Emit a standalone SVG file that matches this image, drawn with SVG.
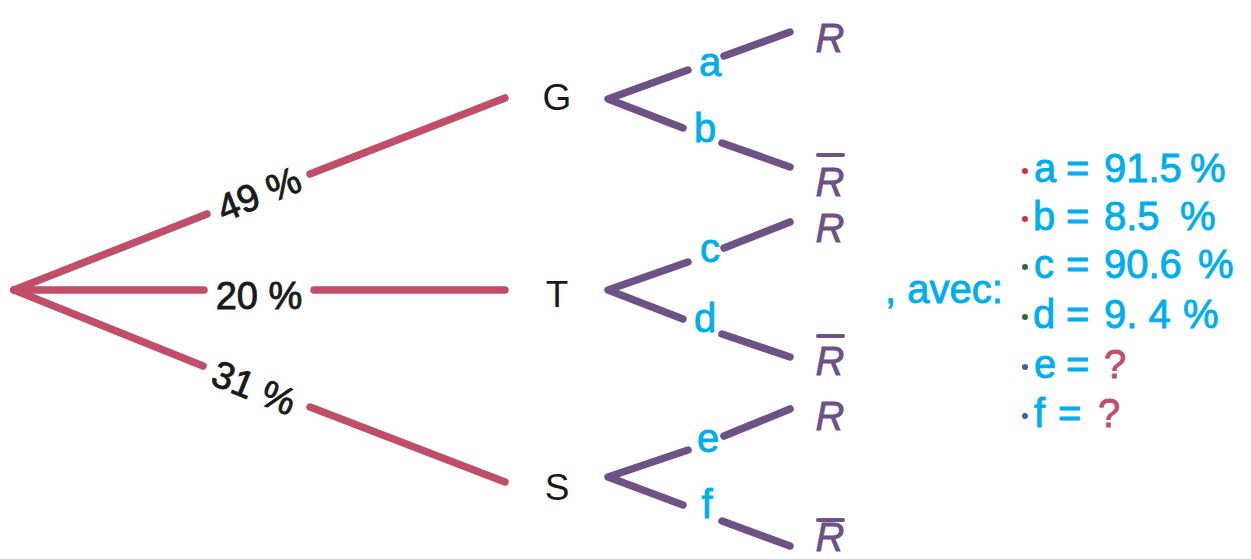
<svg xmlns="http://www.w3.org/2000/svg" width="1251" height="559" viewBox="0 0 1251 559">
<style>
.pk{stroke:#C04E6A;stroke-width:7.5;stroke-linecap:round;fill:none}
.pu{stroke:#6E5185;stroke-width:7.5;stroke-linecap:round;stroke-linejoin:round;fill:none}
.bk{font-family:"Liberation Sans",Arial,sans-serif;font-size:38px;fill:#1a1a1a;stroke:#1a1a1a;stroke-width:0.9}
.nd{font-family:"Liberation Sans",Arial,sans-serif;font-size:37px;fill:#1a1a1a;text-anchor:middle}
.r{font-family:"Liberation Sans",Arial,sans-serif;font-size:40px;font-style:italic;fill:#6E5185;stroke:#6E5185;stroke-width:0.8;text-anchor:middle}
.bar{stroke:#6E5185;stroke-width:4;stroke-linecap:round}
.bl{font-family:"Liberation Sans",Arial,sans-serif;font-size:40px;fill:#00AEEF;stroke:#00AEEF;stroke-width:0.9;text-anchor:middle}
.ls{font-family:"Liberation Sans",Arial,sans-serif;font-size:40px;fill:#00AEEF;stroke:#00AEEF;stroke-width:0.9}
.q{fill:#C04E6A;stroke:#C04E6A}
</style>
<rect width="1251" height="559" fill="#ffffff"/>
<g id="connectors">
<path class="pk" d="M14 290 L207 214 M310 174 L505 98"/>
<path class="pk" d="M14 290 L204 290 M314 290 L505 290"/>
<path class="pk" d="M14 290 L203 366 M310 407 L505 482"/>
<path class="pu" d="M688 70 L608 99 L683 128 M724 56 L790 32 M722 143 L790 167"/>
<path class="pu" d="M688 262 L608 290 L683 319 M724 248 L790 222 M722 334 L790 357"/>
<path class="pu" d="M688 450 L608 477 L683 505 M724 436 L790 409 M722 521 L790 546"/>
</g>
<g id="labels-first">
<text class="bk" text-anchor="middle" transform="translate(259 194) rotate(-22)" y="13">49 %</text>
<text class="bk" text-anchor="middle" x="259" y="309">20 %</text>
<text class="bk" text-anchor="middle" transform="translate(254 388) rotate(22)" y="13">31 %</text>
</g>
<g id="node-root"><circle cx="14" cy="290" r="3.8" fill="#C04E6A"/></g>
<g id="node-G"><text class="nd" x="557" y="110">G</text></g>
<g id="node-T"><text class="nd" x="557" y="307">T</text></g>
<g id="node-S"><text class="nd" x="557" y="500">S</text></g>
<g id="node-G-R"><text class="r" x="830" y="52">R</text></g>
<g id="node-G-Rbar"><line class="bar" x1="818" y1="155" x2="843" y2="155"/><text class="r" x="830" y="196">R</text></g>
<g id="node-T-R"><text class="r" x="830" y="242">R</text></g>
<g id="node-T-Rbar"><line class="bar" x1="818" y1="336" x2="843" y2="336"/><text class="r" x="830" y="375">R</text></g>
<g id="node-S-R"><text class="r" x="830" y="430">R</text></g>
<g id="node-S-Rbar"><line class="bar" x1="818" y1="520" x2="843" y2="520"/><text class="r" x="830" y="551">R</text></g>
<g id="labels-second">
<text class="bl" x="710" y="76">a</text>
<text class="bl" x="705" y="142">b</text>
<text class="bl" x="710" y="262">c</text>
<text class="bl" x="705" y="332">d</text>
<text class="bl" x="708" y="452">e</text>
<text class="bl" x="707" y="518">f</text>
</g>
<g id="legend">
<text class="ls" x="885" y="303">, avec:</text>
<circle cx="1025" cy="171" r="3" fill="#D62D3A"/>
<circle cx="1025" cy="219" r="3" fill="#D62D3A"/>
<circle cx="1025" cy="267" r="3" fill="#2E6B3A"/>
<circle cx="1025" cy="317" r="3" fill="#2E6B3A"/>
<circle cx="1025" cy="367" r="3" fill="#3A62B0"/>
<circle cx="1025" cy="416" r="3" fill="#3A62B0"/>
<text class="ls" y="182"><tspan x="1034">a</tspan><tspan x="1066">=</tspan><tspan x="1104">91.5</tspan><tspan x="1190">%</tspan></text>
<text class="ls" y="230"><tspan x="1033">b</tspan><tspan x="1066">=</tspan><tspan x="1104">8.5</tspan><tspan x="1180">%</tspan></text>
<text class="ls" y="278"><tspan x="1034">c</tspan><tspan x="1066">=</tspan><tspan x="1104">90.6</tspan><tspan x="1198">%</tspan></text>
<text class="ls" y="328"><tspan x="1033">d</tspan><tspan x="1066">=</tspan><tspan x="1104">9. 4</tspan><tspan x="1183">%</tspan></text>
<text class="ls" y="378"><tspan x="1034">e</tspan><tspan x="1066">=</tspan><tspan x="1104" class="q">?</tspan></text>
<text class="ls" y="427"><tspan x="1034">f</tspan><tspan x="1058">=</tspan><tspan x="1098" class="q">?</tspan></text>
</g>
</svg>
